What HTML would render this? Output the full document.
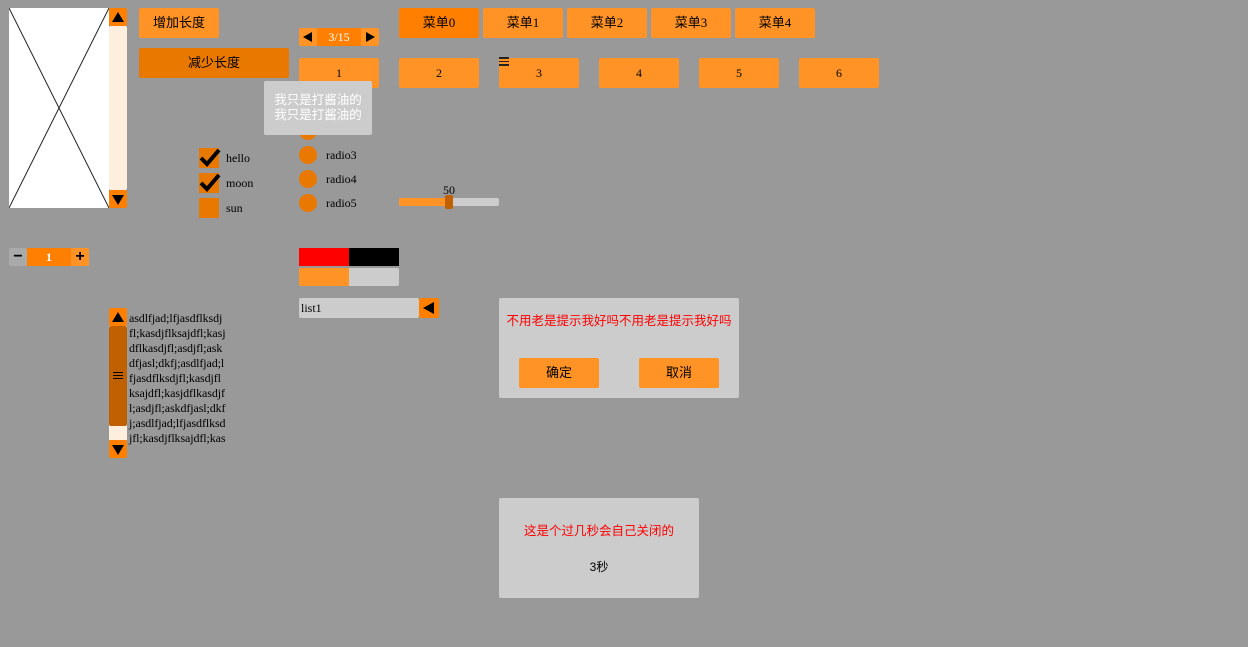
<!DOCTYPE html>
<html><head><meta charset="utf-8"><style>
*{margin:0;padding:0;box-sizing:border-box}
body{width:1248px;height:647px;background:#999;position:relative;overflow:hidden;font-family:"Liberation Serif","Noto Sans CJK SC",serif;font-size:12px;color:#000}
.a{position:absolute}
.b{position:absolute;background:#ff9326;border-radius:2px;text-align:center;font-size:12px}
.cj{font-family:"Liberation Sans","Noto Sans CJK SC",sans-serif}
.sj{font-family:"Liberation Serif","Noto Sans CJK SC",serif}
.tri{position:absolute;width:0;height:0}
</style></head><body>
<div class="a" style="left:9px;top:8px;width:100px;height:200px;background:#fff"></div>
<svg class="a" style="left:9px;top:8px" width="100" height="200"><line x1="0" y1="0" x2="100" y2="200" stroke="#222"/><line x1="100" y1="0" x2="0" y2="200" stroke="#222"/></svg>
<div class="a" style="left:109px;top:26px;width:18px;height:164px;background:#fdeede;border-radius:2px"></div>
<div class="a" style="left:109px;top:8px;width:18px;height:18px;background:#ff8000;border-radius:2px"></div>
<div class="tri" style="left:112px;top:12px;border-left:6px solid transparent;border-right:6px solid transparent;border-bottom:10px solid #000"></div>
<div class="a" style="left:109px;top:190px;width:18px;height:18px;background:#ff8000;border-radius:2px"></div>
<div class="tri" style="left:112px;top:195px;border-left:6px solid transparent;border-right:6px solid transparent;border-top:10px solid #000"></div>
<div class="b cj" style="left:139px;top:8px;width:80px;height:30px;line-height:30px;font-size:13px">增加长度</div>
<div class="b cj" style="left:139px;top:48px;width:150px;height:30px;line-height:30px;background:#e87800;font-size:13px">减少长度</div>
<div class="a" style="left:299px;top:28px;width:18px;height:18px;background:#ff9326;border-radius:2px"></div>
<div class="tri" style="left:303px;top:32px;border-top:5px solid transparent;border-bottom:5px solid transparent;border-right:9px solid #000"></div>
<div class="a" style="left:317px;top:28px;width:44px;height:18px;background:#ff8000;color:#fff;text-align:center;line-height:18px;font-size:12px">3/15</div>
<div class="a" style="left:361px;top:28px;width:18px;height:18px;background:#ff9326;border-radius:2px"></div>
<div class="tri" style="left:366px;top:32px;border-top:5px solid transparent;border-bottom:5px solid transparent;border-left:9px solid #000"></div>
<div class="b sj" style="left:399px;top:8px;width:80px;height:30px;line-height:30px;background:#ff8000;font-size:13px">菜单0</div>
<div class="b sj" style="left:483px;top:8px;width:80px;height:30px;line-height:30px;font-size:13px">菜单1</div>
<div class="b sj" style="left:567px;top:8px;width:80px;height:30px;line-height:30px;font-size:13px">菜单2</div>
<div class="b sj" style="left:651px;top:8px;width:80px;height:30px;line-height:30px;font-size:13px">菜单3</div>
<div class="b sj" style="left:735px;top:8px;width:80px;height:30px;line-height:30px;font-size:13px">菜单4</div>
<div class="b" style="left:299px;top:58px;width:80px;height:30px;line-height:30px">1</div>
<div class="b" style="left:399px;top:58px;width:80px;height:30px;line-height:30px">2</div>
<div class="b" style="left:499px;top:58px;width:80px;height:30px;line-height:30px">3</div>
<div class="b" style="left:599px;top:58px;width:80px;height:30px;line-height:30px">4</div>
<div class="b" style="left:699px;top:58px;width:80px;height:30px;line-height:30px">5</div>
<div class="b" style="left:799px;top:58px;width:80px;height:30px;line-height:30px">6</div>
<div class="a" style="left:499px;top:57px;width:10px;height:9px;border-top:2px solid #222;border-bottom:2px solid #222"></div>
<div class="a" style="left:499px;top:61px;width:10px;height:1px;background:#222"></div>
<div class="a" style="left:299px;top:122px;width:18px;height:18px;border-radius:50%;background:#e87800"></div>
<div class="a" style="left:326px;top:124px">radio2</div>
<div class="a" style="left:299px;top:146px;width:18px;height:18px;border-radius:50%;background:#e87800"></div>
<div class="a" style="left:326px;top:148px">radio3</div>
<div class="a" style="left:299px;top:170px;width:18px;height:18px;border-radius:50%;background:#e87800"></div>
<div class="a" style="left:326px;top:172px">radio4</div>
<div class="a" style="left:299px;top:194px;width:18px;height:18px;border-radius:50%;background:#e87800"></div>
<div class="a" style="left:326px;top:196px">radio5</div>
<div class="a cj" style="left:264px;top:81px;width:108px;height:54px;background:#ccc;border-radius:2px;color:#fff;text-align:center;font-size:12.5px;line-height:15px;padding-top:12px">我只是打酱油的<br>我只是打酱油的</div>
<div class="a" style="left:199px;top:148px;width:20px;height:20px;background:#e87800"></div>
<div class="a" style="left:199px;top:173px;width:20px;height:20px;background:#e87800"></div>
<div class="a" style="left:199px;top:198px;width:20px;height:20px;background:#e87800"></div>
<svg class="a" style="left:199px;top:146px" width="24" height="50"><path d="M2 12 L8 18 L20 4" stroke="#000" stroke-width="4" fill="none"/><path d="M2 37 L8 43 L20 29" stroke="#000" stroke-width="4" fill="none"/></svg>
<div class="a" style="left:226px;top:151px">hello</div>
<div class="a" style="left:226px;top:176px">moon</div>
<div class="a" style="left:226px;top:201px">sun</div>
<div class="a" style="left:443px;top:183px">50</div>
<div class="a" style="left:399px;top:198px;width:100px;height:8px;background:#ccc;border-radius:2px"></div>
<div class="a" style="left:399px;top:198px;width:50px;height:8px;background:#ff9326;border-radius:2px"></div>
<div class="a" style="left:445px;top:195px;width:8px;height:14px;background:#c06000;border-radius:2px"></div>
<div class="a" style="left:9px;top:248px;width:18px;height:18px;background:#aaa;border-radius:2px;text-align:center;line-height:18px;font:bold 16px 'Liberation Sans',sans-serif">−</div>
<div class="a" style="left:27px;top:248px;width:44px;height:18px;background:#ff8000;color:#fff;text-align:center;line-height:18px;font-weight:bold">1</div>
<div class="a" style="left:71px;top:248px;width:18px;height:18px;background:#ff9326;border-radius:2px;text-align:center;line-height:18px;font:bold 16px 'Liberation Sans',sans-serif">+</div>
<div class="a" style="left:299px;top:248px;width:50px;height:18px;background:#f00"></div>
<div class="a" style="left:349px;top:248px;width:50px;height:18px;background:#000"></div>
<div class="a" style="left:299px;top:268px;width:100px;height:18px;background:#ccc;border-radius:2px"></div>
<div class="a" style="left:299px;top:268px;width:50px;height:18px;background:#ff9326;border-radius:2px 0 0 2px"></div>
<div class="a" style="left:299px;top:298px;width:120px;height:20px;background:#ccc;border-radius:2px;line-height:20px;padding-left:2px">list1</div>
<div class="a" style="left:419px;top:298px;width:20px;height:20px;background:#ff8000;border-radius:2px"></div>
<div class="tri" style="left:423px;top:302px;border-top:6px solid transparent;border-bottom:6px solid transparent;border-right:11px solid #000"></div>
<div class="a" style="left:109px;top:308px;width:18px;height:18px;background:#ff8000;border-radius:2px"></div>
<div class="tri" style="left:112px;top:312px;border-left:6px solid transparent;border-right:6px solid transparent;border-bottom:10px solid #000"></div>
<div class="a" style="left:109px;top:326px;width:18px;height:114px;background:#fdeede"></div>
<div class="a" style="left:109px;top:326px;width:18px;height:100px;background:#c06000;border-radius:2px"></div>
<div class="a" style="left:113px;top:372px;width:10px;height:7px;border-top:1px solid #000;border-bottom:1px solid #000"></div>
<div class="a" style="left:113px;top:375px;width:10px;height:1px;background:#000"></div>
<div class="a" style="left:109px;top:440px;width:18px;height:18px;background:#ff8000;border-radius:2px"></div>
<div class="tri" style="left:112px;top:445px;border-left:6px solid transparent;border-right:6px solid transparent;border-top:10px solid #000"></div>
<div class="a" style="left:129px;top:311px;line-height:15px;font-size:12px;letter-spacing:-0.1px;white-space:pre">asdlfjad;lfjasdflksdj
fl;kasdjflksajdfl;kasj
dflkasdjfl;asdjfl;ask
dfjasl;dkfj;asdlfjad;l
fjasdflksdjfl;kasdjfl
ksajdfl;kasjdflkasdjf
l;asdjfl;askdfjasl;dkf
j;asdlfjad;lfjasdflksd
jfl;kasdjflksajdfl;kas</div>
<div class="a" style="left:499px;top:298px;width:240px;height:100px;background:#ccc;border-radius:2px"></div>
<div class="a cj" style="left:499px;top:310px;width:240px;text-align:center;color:#f00;font-size:12.5px">不用老是提示我好吗不用老是提示我好吗</div>
<div class="b cj" style="left:519px;top:358px;width:80px;height:30px;line-height:30px;font-size:13px">确定</div>
<div class="b cj" style="left:639px;top:358px;width:80px;height:30px;line-height:30px;font-size:13px">取消</div>
<div class="a" style="left:499px;top:498px;width:200px;height:100px;background:#ccc;border-radius:2px"></div>
<div class="a cj" style="left:499px;top:520px;width:200px;text-align:center;color:#f00;font-size:12.5px">这是个过几秒会自己关闭的</div>
<div class="a cj" style="left:499px;top:558px;width:200px;text-align:center">3秒</div>
</body></html>
